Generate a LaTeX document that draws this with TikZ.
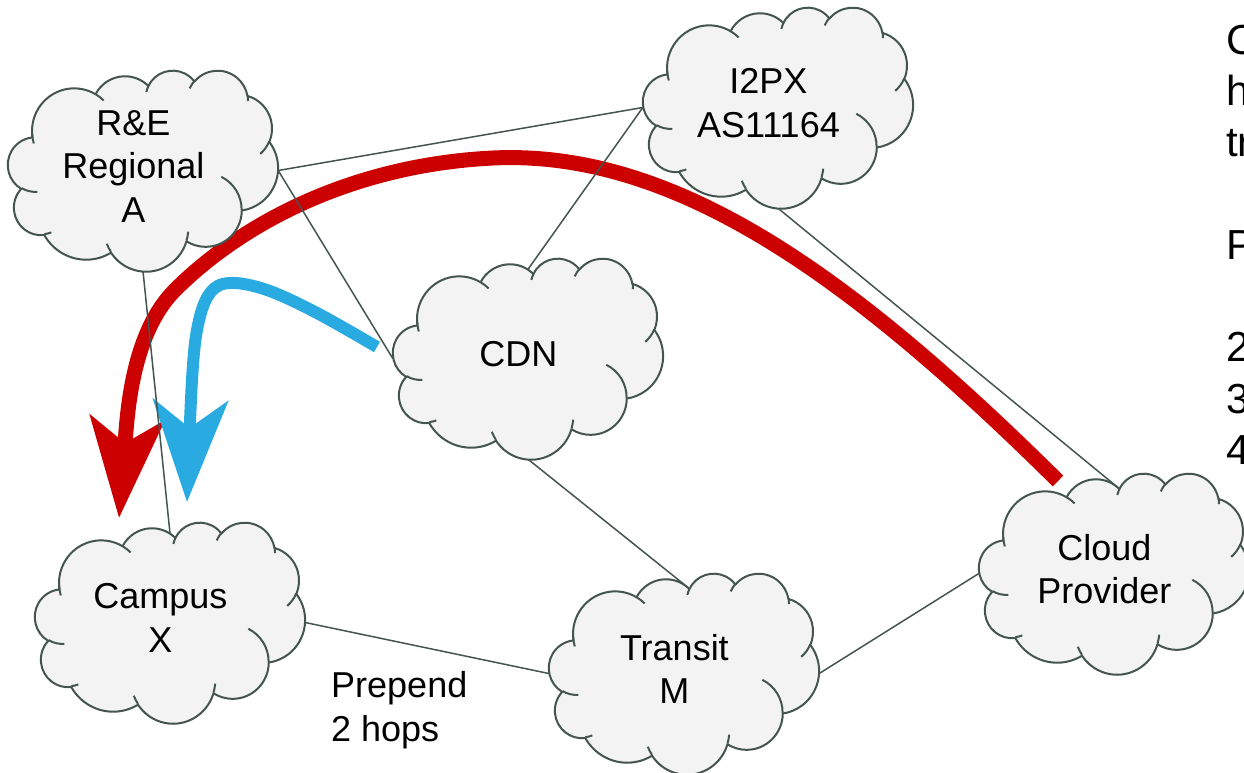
\documentclass[tikz,border=0pt]{standalone}
\usepackage{fontspec}
\setmainfont{Liberation Sans}
\usetikzlibrary{arrows.meta}
\definecolor{edgecol}{HTML}{44554F}
\definecolor{cloudfill}{HTML}{F3F3F3}
\definecolor{redarr}{HTML}{CC0000}
\definecolor{bluearr}{HTML}{29ABE2}

% --- cloud outline (preset "cloud" geometry, path space 432 x 432) ---
\def\cloudmain{}
\def\cloudinner{}
\newcommand\cldangles[4]{%
  \pgfmathsetmacro\cldts{atan2((#1)*sin(#3),(#2)*cos(#3))}%
  \pgfmathsetmacro\cldte{atan2((#1)*sin((#3)+(#4)),(#2)*cos((#3)+(#4)))}%
  \pgfmathsetmacro\cldte{ifthenelse(\cldte<\cldts,\cldte+360,\cldte)}%
}
\newcommand\mainarc[4]{\cldangles{#1}{#2}{#3}{#4}%
  \xdef\cloudmain{\cloudmain arc[x radius=#1,y radius=#2,start angle=\cldts,end angle=\cldte]}}
\newcommand\innerarc[6]{\cldangles{#3}{#4}{#5}{#6}%
  \xdef\cloudinner{\cloudinner (#1,#2) arc[x radius=#3,y radius=#4,start angle=\cldts,end angle=\cldte]}}

\mainarc{67.53}{91.90}{-190.48748}{123.78053}
\mainarc{53.33}{72.67}{-144.10238}{89.94523}
\mainarc{43.65}{59.45}{-145.80792}{99.72302}
\mainarc{48.57}{65.95}{-130.98607}{117.24173}
\mainarc{53.33}{72.73}{-78.70888}{109.02692}
\mainarc{67.75}{92.20}{-46.26725}{130.26900}
\mainarc{57.85}{78.67}{0.62502}{114.03333}
\mainarc{67.52}{92.15}{22.45160}{115.17255}
\mainarc{77.20}{105.43}{66.24263}{75.71102}
\mainarc{43.60}{59.18}{-274.94208}{146.73557}
\mainarc{43.45}{59.45}{-246.82850}{152.51885}

\innerarc{46.93}{261.77}{43.45}{59.45}{86.74200}{26.42950}
\innerarc{69.28}{348.99}{43.60}{59.18}{73.61047}{11.44747}
\innerarc{164.78}{390.90}{67.52}{92.15}{137.62415}{14.08110}
\innerarc{288.27}{347.51}{67.52}{92.15}{6.45327}{15.99835}
\innerarc{341.29}{229.54}{57.85}{78.67}{-70.29235}{70.91737}
\innerarc{417.98}{153.54}{53.33}{72.73}{30.31803}{27.75150}
\innerarc{383.24}{54.26}{48.57}{65.95}{-13.74433}{14.85890}
\innerarc{290.78}{39.52}{48.57}{65.95}{-149.18145}{18.19537}
\innerarc{221.41}{47.20}{43.65}{59.45}{-163.49427}{17.68635}
\innerarc{140.00}{51.92}{67.53}{91.90}{-66.70695}{12.31935}
\innerarc{41.27}{157.89}{67.53}{91.90}{158.16397}{18.11592}

\tikzset{
  cloudbox/.style={rectangle, minimum width=270pt, minimum height=201pt, inner sep=0pt, draw=none},
  cloudline/.style={draw=edgecol, line width=2pt, line join=round},
  link/.style={draw=edgecol, line width=1.5pt},
  lbl/.style={font=\fontsize{36}{43.5}\selectfont, align=center, text depth=0pt, inner sep=0pt},
  redarrow/.style={draw=redarr, line width=15pt,
    -{Stealth[length=100pt, width=74pt, inset=25pt]}},
  bluearrow/.style={draw=bluearr, line width=12pt,
    -{Stealth[length=102pt, width=75pt, inset=28pt]}},
}
\newcommand\cloudat[2]{%
  \begin{scope}[shift={(#1,#2)}, xscale=0.625, yscale=0.465278]
    \draw[cloudline, fill=cloudfill] (39.00,143.70) \cloudmain -- cycle;
    \draw[cloudline] \cloudinner;
  \end{scope}}

\begin{document}
\begin{tikzpicture}[x=1pt, y=-1pt]
\useasboundingbox (0,0) rectangle (1244,772);
\clip (0,0) rectangle (1244,772);

% cloud frames (bounding boxes, used for the connectors)
\node[cloudbox] (rea)     at (143,170.5)  {};
\node[cloudbox] (i2px)    at (778,107.5)  {};
\node[cloudbox] (cdn)     at (528,358.5)  {};
\node[cloudbox] (campus)  at (170,622.5)  {};
\node[cloudbox] (transit) at (684,673.5)  {};
\node[cloudbox] (cp)      at (1114,573.5) {};

% route arrows
\coordinate (rstart) at (1058,481);
\coordinate (rtop)   at (493,158);
\coordinate (rbend)  at (175,290);
\coordinate (rtip)   at (119,518);
\draw[redarrow] (rstart) .. controls (860,285) and (680,149) .. (rtop)
  .. controls (350,165) and (240,225) .. (rbend)
  .. controls (130,335) and (127,420) .. (rtip);

\coordinate (bstart) at (377,347);
\coordinate (btip)   at (187,502);
\draw[bluearrow] plot[smooth, tension=0.6] coordinates {(bstart) (317,313) (267,290) (230,283) (210,293) (198,325) (192,380) (btip)};

% links
\draw[link] (rea.east) -- (i2px.west);
\draw[link] (rea.east) -- (cdn.west);
\draw[link] (rea.south) -- ([yshift=-11.5pt]campus.north);
\draw[link] (i2px.west) -- ([yshift=-11.5pt]cdn.north);
\draw[link] (i2px.south) -- ([yshift=-11.5pt]cp.north);
\draw[link] (cdn.south) -- ([yshift=-11.5pt]transit.north);
\draw[link] (campus.east) -- (transit.west);
\draw[link] (transit.east) -- (cp.west);

% clouds
\cloudat{8}{70}
\cloudat{643}{7}
\cloudat{393}{258}
\cloudat{35}{522}
\cloudat{549}{573}
\cloudat{979}{473}

% labels
\node[lbl] (rea-t)     at (133.4,166.1) {R\&E\\Regional\\A};
\node[lbl] (i2px-t)    at (768.4,103.1) {I2PX\\AS11164};
\node[lbl] (cdn-t)     at (518.4,354.1) {CDN};
\node[lbl] (campus-t)  at (160.4,618.1) {Campus\\X};
\node[lbl] (transit-t) at (674.4,669.1) {Transit\\M};
\node[lbl] (cp-t)      at (1104.4,569.1) {Cloud\\Provider};

\node[font=\fontsize{36}{44}\selectfont, align=left, anchor=north west, inner sep=0pt] (prep) at (331,671) {Prepend\\2 hops};

\node[font=\fontsize{42}{51.3}\selectfont, align=left, anchor=north west, inner sep=0pt] (side) at (1226,24.5) {C\\h\\tr\\\mbox{}\\P\\\mbox{}\\2\\3\\4};
\end{tikzpicture}
\end{document}
